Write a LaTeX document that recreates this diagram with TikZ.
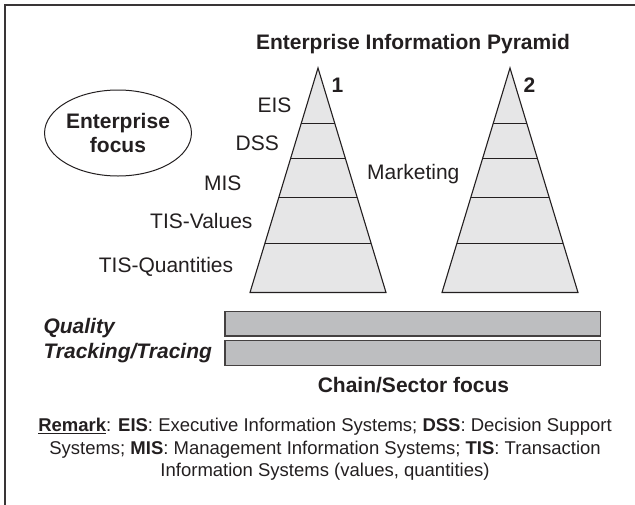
\documentclass[tikz,border=0pt]{standalone}
\usepackage{fontspec}
\setmainfont{Liberation Sans}
\usetikzlibrary{positioning, calc, shapes.geometric}
\definecolor{ink}{HTML}{231F20}
\definecolor{tierfill}{HTML}{E6E6E7}
\definecolor{barfill}{HTML}{BDBEC0}
\tikzset{tier/.style = {draw=ink, fill=tierfill, line width=1.1pt}}
\tikzset{divider/.style = {draw=ink, line width=1.3pt}}
\tikzset{bar/.style = {draw=ink!85, fill=barfill, line width=1.3pt, minimum width=375.4pt, minimum height=24.7pt, inner sep=0pt}}
\tikzset{layer/.style = {anchor=base east, inner sep=0pt, font=\fontsize{21}{24}\selectfont}}
\tikzset{heading/.style = {anchor=base, inner sep=0pt, font=\fontsize{21}{24}\selectfont\bfseries}}
\tikzset{track/.style = {anchor=base west, inner sep=0pt, font=\fontsize{21}{24}\selectfont\bfseries\itshape}}
\tikzset{focus/.style = {draw=ink, ellipse, line width=1pt, minimum width=142pt, minimum height=86pt, inner sep=0pt, align=center, font=\fontsize{21}{24}\selectfont\bfseries}}
\tikzset{remark/.style = {anchor=base, inner sep=0pt, align=center, font=\fontsize{18.5}{22.5}\selectfont}}

\begin{document}
\begin{tikzpicture}[x=1pt, y=-1pt, text=ink]
  \useasboundingbox (0,0) rectangle (635,504);
  % frame: only its top and left edges lie on the page
  \draw [ink!90, line width=1.4pt] (4.8,520) -- (4.8,4.8) -- (650,4.8);

  \node [heading] (title) at (413,49.3) {Enterprise Information Pyramid};

  % the two pyramids with their four tiers
  \foreach \n/\x in {1/318, 2/510} {
    \coordinate (p\n top) at (\x,68);
    \coordinate (p\n left) at (\x-68,292.5);
    \coordinate (p\n right) at (\x+68,292.5);
    \draw [tier] (p\n top) -- (p\n left) -- (p\n right) -- cycle;
    \foreach \f in {0.247,0.403,0.578,0.781}
      \draw [divider] ($(p\n top)!\f!(p\n left)$) -- ($(p\n top)!\f!(p\n right)$);
  }
  \node [heading] (num1) at (337.5,92.3) {1};
  \node [heading] (num2) at (529.5,92.3) {2};

  \node [layer] (eis) at (291.7,112.7) {EIS};
  \node [layer] (dss) at (279,150.7) {DSS};
  \node [layer] (mis) at (241.7,190.7) {MIS};
  \node [layer] (tisv) at (252.7,228.3) {TIS-Values};
  \node [layer] (tisq) at (233.3,272.7) {TIS-Quantities};
  \node [layer, anchor=base] (mkt) at (413.3,179.3) {Marketing};

  \node [focus] (ent) at (118,133) {Enterprise\\focus};

  % chain level
  \node [bar] (qbar) at (412.7,323.7) {};
  \node [bar, below=3.3pt of qbar] (tbar) {};
  \node [track] (qual) at (43.3,333.3) {Quality};
  \node [track] (trac) at (43.3,358.3) {Tracking/Tracing};
  \node [heading] (chain) at (413.5,392.7) {Chain/Sector focus};

  % base of a multi-line node sits on its last line
  \node [remark] (rem) at (325,476.7) {\underline{\textbf{Remark}}: \textbf{EIS}: Executive Information Systems; \textbf{DSS}: Decision Support\\
    Systems; \textbf{MIS}: Management Information Systems; \textbf{TIS}: Transaction\\
    Information Systems (values, quantities)};
\end{tikzpicture}
\end{document}
